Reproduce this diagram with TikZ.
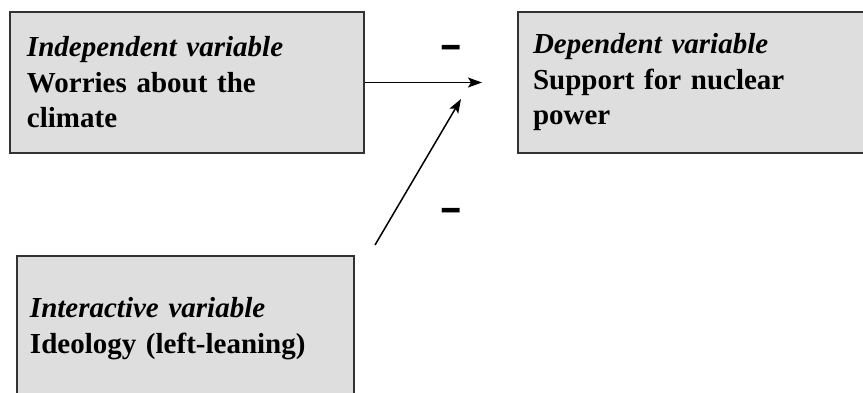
\documentclass[tikz,border=0pt]{standalone}
\usepackage{fontspec}
\setmainfont{Liberation Serif}
\newfontfamily\signfont{Liberation Sans}
\usetikzlibrary{arrows.meta}
\definecolor{boxgray}{RGB}{222,222,222}
\definecolor{boxline}{RGB}{50,50,50}
\tikzset{
var/.style={rectangle, draw=boxline, fill=boxgray, line width=1.6pt, align=left, inner ysep=0pt,
  font=\fontsize{29}{35.5}\selectfont\bfseries},
arrow/.style={line width=1.5pt,->,>={Stealth[length=14pt,width=10pt,inset=3pt]}},
sign/.style={font=\fontsize{38}{38}\signfont\bfseries, xscale=1.85, inner sep=0pt},
}

\begin{document}
\begin{tikzpicture}[x=1pt,y=-1pt]
\useasboundingbox (0,0) rectangle (863,392);

\node[var, minimum width=354pt, minimum height=141pt, inner xsep=17pt, text width=320pt] (independent) at (187,82.5)
  {\textit{Independent variable}\\Worries about the\\climate};
\node[var, minimum width=362pt, minimum height=141pt, inner xsep=15pt, text width=332pt] (dependent) at (699,82.5)
  {\textit{Dependent variable}\\Support for nuclear\\power};
\node[var, minimum width=337pt, minimum height=145pt, inner xsep=13pt, text width=311pt] (interactive) at (185.5,328.5)
  {\textit{Interactive variable}\\Ideology (left-leaning)};

\coordinate (tip1) at (482,82.5);
\coordinate (start2) at (375,245);
\coordinate (tip2) at (461,99);

\draw [arrow] (independent.east) -- (tip1);
\draw [arrow] (start2) -- (tip2);

\node[sign] (minus1) at (451,51.5) {-};
\node[sign] (minus2) at (451,214) {-};
\end{tikzpicture}
\end{document}
